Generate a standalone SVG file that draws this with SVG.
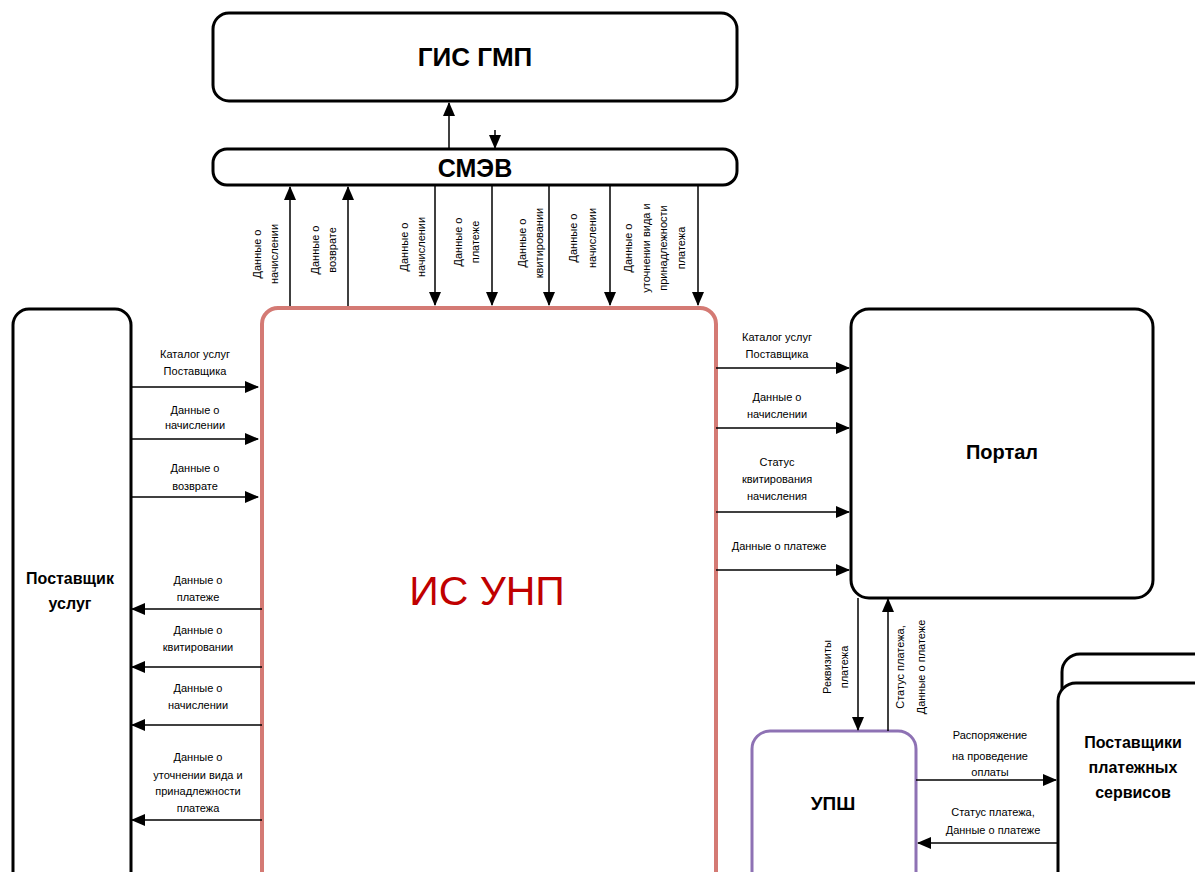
<svg xmlns="http://www.w3.org/2000/svg" width="1195" height="872" viewBox="0 0 1195 872">
<defs>
<marker id="ah" markerWidth="14" markerHeight="12" refX="13" refY="6" orient="auto" markerUnits="userSpaceOnUse"><path d="M0,0 L14,6 L0,12 z" fill="#000"/></marker>
<style>
.box{fill:#fff;stroke:#000;stroke-width:3}
.t{font-family:"Liberation Sans",Arial,sans-serif;font-weight:bold;fill:#000;text-anchor:middle}
.s{font-family:"Liberation Sans",Arial,sans-serif;font-size:11px;fill:#000;text-anchor:middle}
.c line{stroke:#000;stroke-width:1.5;marker-end:url(#ah)}
</style>
</defs>
<rect width="1195" height="872" fill="#fff"/>
<g id="gis">
<rect class="box" x="213" y="13" width="524" height="88" rx="16"/>
<text class="t" x="475" y="66" font-size="26">ГИС ГМП</text>
</g>
<g id="smev">
<rect class="box" x="213" y="149" width="524" height="36" rx="14"/>
<text class="t" x="475" y="177" font-size="25">СМЭВ</text>
</g>
<g id="isunp">
<rect x="262" y="308" width="454" height="580" rx="16" fill="#fff" stroke="#d47a74" stroke-width="4"/>
<text x="487" y="605" font-family="'Liberation Sans',Arial,sans-serif" font-size="41" fill="#c00000" text-anchor="middle">ИС УНП</text>
</g>
<g id="provider">
<rect class="box" x="13" y="309" width="118" height="580" rx="16"/>
<text class="t" x="70" y="584" font-size="16">Поставщик</text>
<text class="t" x="70" y="609" font-size="16">услуг</text>
</g>
<g id="portal">
<rect class="box" x="851" y="309" width="302" height="289" rx="18"/>
<text class="t" x="1002" y="459" font-size="20">Портал</text>
</g>
<g id="ups">
<rect x="752" y="731" width="164" height="160" rx="18" fill="#fff" stroke="#8e72b4" stroke-width="3"/>
<text class="t" x="833" y="810" font-size="19">УПШ</text>
</g>
<g id="payproviders">
<rect class="box" x="1062" y="654" width="160" height="240" rx="18"/>
<rect class="box" x="1058" y="683" width="160" height="210" rx="18"/>
<text class="t" x="1133" y="748" font-size="16">Поставщики</text>
<text class="t" x="1133" y="773" font-size="16">платежных</text>
<text class="t" x="1133" y="798" font-size="16">сервисов</text>
</g>
<g id="connectors" class="c">
<line x1="449" y1="149" x2="449" y2="103"/>
<line x1="495" y1="130" x2="495" y2="148"/>
<line x1="290" y1="306" x2="290" y2="187"/>
<line x1="348" y1="306" x2="348" y2="187"/>
<line x1="435" y1="185" x2="435" y2="305"/>
<line x1="492" y1="185" x2="492" y2="305"/>
<line x1="549" y1="185" x2="549" y2="305"/>
<line x1="610" y1="185" x2="610" y2="305"/>
<line x1="698" y1="185" x2="698" y2="305"/>
<line x1="131" y1="387" x2="258" y2="387"/>
<line x1="131" y1="439" x2="258" y2="439"/>
<line x1="131" y1="497" x2="258" y2="497"/>
<line x1="262" y1="609" x2="132" y2="609"/>
<line x1="262" y1="667" x2="132" y2="667"/>
<line x1="262" y1="725" x2="132" y2="725"/>
<line x1="262" y1="820" x2="132" y2="820"/>
<line x1="716" y1="368" x2="849" y2="368"/>
<line x1="716" y1="428" x2="849" y2="428"/>
<line x1="716" y1="512" x2="849" y2="512"/>
<line x1="716" y1="570" x2="849" y2="570"/>
<line x1="858" y1="598" x2="858" y2="730"/>
<line x1="888" y1="731" x2="888" y2="599"/>
<line x1="916" y1="780" x2="1056" y2="780"/>
<line x1="1058" y1="843" x2="918" y2="843"/>
</g>
<g id="labels">
<text class="s" x="195" y="358">Каталог услуг</text>
<text class="s" x="195" y="375">Поставщика</text>
<text class="s" x="195" y="414">Данные о</text>
<text class="s" x="195" y="429">начислении</text>
<text class="s" x="195" y="472">Данные о</text>
<text class="s" x="195" y="490">возврате</text>
<text class="s" x="198" y="584">Данные о</text>
<text class="s" x="198" y="601">платеже</text>
<text class="s" x="198" y="634">Данные о</text>
<text class="s" x="198" y="651">квитировании</text>
<text class="s" x="198" y="692">Данные о</text>
<text class="s" x="198" y="709">начислении</text>
<text class="s" x="198" y="761">Данные о</text>
<text class="s" x="198" y="779">уточнении вида и</text>
<text class="s" x="198" y="795">принадлежности</text>
<text class="s" x="198" y="812">платежа</text>
<text class="s" x="777" y="341">Каталог услуг</text>
<text class="s" x="777" y="358">Поставщика</text>
<text class="s" x="777" y="401">Данные о</text>
<text class="s" x="777" y="418">начислении</text>
<text class="s" x="777" y="466">Статус</text>
<text class="s" x="777" y="483">квитирования</text>
<text class="s" x="777" y="500">начисления</text>
<text class="s" x="779" y="550">Данные о платеже</text>
<text class="s" x="990" y="739">Распоряжение</text>
<text class="s" x="990" y="760">на проведение</text>
<text class="s" x="990" y="776">оплаты</text>
<text class="s" x="993" y="816">Статус платежа,</text>
<text class="s" x="993" y="834">Данные о платеже</text>
<g transform="translate(261,254) rotate(-90)"><text class="s" x="0" y="0">Данные о</text><text class="s" x="0" y="17">начислении</text></g>
<g transform="translate(319,250) rotate(-90)"><text class="s" x="0" y="0">Данные о</text><text class="s" x="0" y="17">возврате</text></g>
<g transform="translate(408,247) rotate(-90)"><text class="s" x="0" y="0">Данные о</text><text class="s" x="0" y="17">начислении</text></g>
<g transform="translate(462,242) rotate(-90)"><text class="s" x="0" y="0">Данные о</text><text class="s" x="0" y="17">платеже</text></g>
<g transform="translate(526,243) rotate(-90)"><text class="s" x="0" y="0">Данные о</text><text class="s" x="0" y="17">квитировании</text></g>
<g transform="translate(577,238) rotate(-90)"><text class="s" x="0" y="0">Данные о</text><text class="s" x="0" y="19">начислении</text></g>
<g transform="translate(632,248) rotate(-90)"><text class="s" x="0" y="0">Данные о</text><text class="s" x="0" y="18">уточнении вида и</text><text class="s" x="0" y="35">принадлежности</text><text class="s" x="0" y="53">платежа</text></g>
<g transform="translate(831,667) rotate(-90)"><text class="s" x="0" y="0">Реквизиты</text><text class="s" x="0" y="17">платежа</text></g>
<g transform="translate(904,667) rotate(-90)"><text class="s" x="0" y="0">Статус платежа,</text><text class="s" x="0" y="21">Данные о платеже</text></g>
</g>
</svg>
